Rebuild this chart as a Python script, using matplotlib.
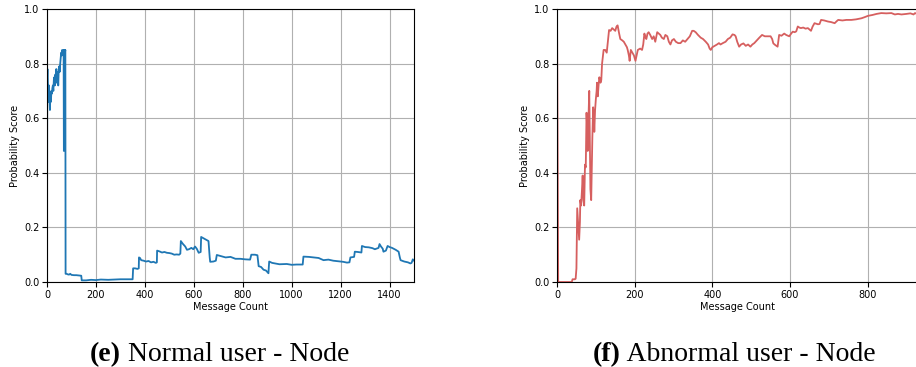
import matplotlib
matplotlib.use('agg')
import matplotlib.pyplot as plt

# normal user - node (blue)
normal_x = [0, 1, 2, 4, 6, 8, 10, 12, 14, 16, 18, 20, 22, 24, 26, 28, 30, 32, 34, 36, 38, 40,
            42, 44, 46, 48, 50, 52, 54, 56, 58, 60, 62, 64, 66, 68, 69, 70, 71, 72, 73, 75,
            76, 80, 85, 90, 95, 100, 110, 120, 130, 140, 142, 160, 180, 200, 220, 250, 280,
            300, 340, 350, 352, 360, 370, 375, 376, 380, 385, 395, 405, 415, 425, 435, 445,
            449, 450, 460, 470, 480, 490, 500, 510, 520, 530, 540, 545, 547, 555, 565, 572,
            580, 590, 598, 605, 612, 620, 628, 630, 640, 650, 660, 665, 667, 680, 690, 694,
            710, 730, 750, 770, 790, 810, 830, 835, 850, 860, 865, 875, 885, 895, 905, 908,
            920, 950, 980, 1000, 1020, 1045, 1048, 1070, 1090, 1110, 1130, 1150, 1170, 1190,
            1210, 1226, 1236, 1240, 1255, 1258, 1270, 1285, 1287, 1300, 1315, 1330, 1340,
            1355, 1359, 1365, 1372, 1375, 1385, 1392, 1400, 1410, 1425, 1437, 1442, 1445,
            1460, 1475, 1485, 1490, 1495, 1500]
normal_y = [0.03, 0.75, 0.78, 0.70, 0.66, 0.72, 0.68, 0.63, 0.69, 0.66, 0.70, 0.69, 0.71, 0.72,
            0.70, 0.74, 0.75, 0.72, 0.76, 0.75, 0.78, 0.73, 0.77, 0.76, 0.72, 0.78, 0.79, 0.77,
            0.80, 0.82, 0.84, 0.83, 0.85, 0.84, 0.83, 0.85, 0.48, 0.50, 0.84, 0.85, 0.84, 0.85,
            0.03, 0.03, 0.028, 0.027, 0.03, 0.026, 0.025, 0.025, 0.024, 0.023, 0.006, 0.006,
            0.008, 0.007, 0.009, 0.008, 0.009, 0.01, 0.01, 0.01, 0.05, 0.05, 0.048, 0.05,
            0.09, 0.088, 0.08, 0.078, 0.075, 0.077, 0.072, 0.074, 0.07, 0.072, 0.115, 0.112,
            0.108, 0.11, 0.107, 0.106, 0.104, 0.10, 0.101, 0.10, 0.104, 0.15, 0.14, 0.13,
            0.118, 0.12, 0.125, 0.12, 0.13, 0.122, 0.107, 0.11, 0.165, 0.16, 0.155, 0.15,
            0.09, 0.074, 0.075, 0.078, 0.099, 0.095, 0.09, 0.092, 0.085, 0.085, 0.083, 0.082,
            0.10, 0.10, 0.098, 0.058, 0.055, 0.045, 0.042, 0.032, 0.075, 0.07, 0.065, 0.066,
            0.063, 0.064, 0.064, 0.093, 0.092, 0.09, 0.088, 0.08, 0.082, 0.078, 0.076, 0.074,
            0.071, 0.072, 0.09, 0.092, 0.111, 0.11, 0.108, 0.132, 0.128, 0.127, 0.124, 0.12,
            0.125, 0.139, 0.13, 0.122, 0.111, 0.115, 0.132, 0.128, 0.125, 0.118, 0.111, 0.09,
            0.08, 0.075, 0.072, 0.068, 0.07, 0.083, 0.078]

# abnormal user - node (red)
abnormal_x = [0, 3, 10, 20, 30, 38, 40, 46, 48, 50, 52, 55, 57, 59, 60, 62, 64, 66, 68, 70, 72,
              74, 76, 78, 79, 81, 83, 85, 86, 88, 90, 91, 93, 95, 96, 98, 100, 102, 103, 105,
              107, 109, 112, 114, 116, 120, 124, 128, 131, 134, 138, 142, 146, 150, 153, 156,
              160, 163, 168, 172, 176, 180, 182, 185, 187, 190, 194, 198, 202, 205, 208, 214,
              219, 222, 225, 228, 230, 233, 236, 240, 245, 249, 253, 256, 258, 262, 266, 270,
              275, 279, 284, 288, 292, 296, 301, 306, 312, 318, 324, 330, 336, 342, 348, 352,
              357, 363, 370, 376, 383, 389, 393, 396, 400, 406, 412, 417, 421, 427, 434, 440,
              446, 452, 457, 460, 464, 469, 474, 480, 486, 492, 498, 503, 508, 515, 521, 528,
              535, 542, 550, 554, 557, 562, 568, 572, 578, 585, 590, 598, 603, 607, 612, 616,
              620, 624, 628, 634, 640, 646, 650, 654, 658, 663, 668, 672, 676, 680, 688, 698,
              706, 715, 720, 724, 735, 745, 758, 770, 784, 792, 801, 812, 823, 835, 848, 861,
              870, 878, 887, 900, 910, 918, 922, 925]
abnormal_y = [1.0, 0.0, 0.0, 0.0, 0.0, 0.0, 0.01, 0.01, 0.012, 0.05, 0.27, 0.20, 0.155, 0.22,
              0.30, 0.28, 0.33, 0.39, 0.30, 0.28, 0.43, 0.42, 0.62, 0.55, 0.48, 0.60, 0.70,
              0.45, 0.34, 0.30, 0.45, 0.53, 0.64, 0.60, 0.55, 0.63, 0.67, 0.70, 0.73, 0.68,
              0.72, 0.75, 0.73, 0.74, 0.80, 0.85, 0.85, 0.84, 0.88, 0.923, 0.92, 0.93, 0.925,
              0.92, 0.935, 0.94, 0.91, 0.89, 0.885, 0.88, 0.87, 0.86, 0.85, 0.83, 0.81, 0.85,
              0.84, 0.83, 0.81, 0.83, 0.85, 0.855, 0.85, 0.87, 0.91, 0.895, 0.89, 0.91, 0.915,
              0.905, 0.89, 0.90, 0.88, 0.90, 0.915, 0.91, 0.905, 0.895, 0.89, 0.905, 0.90,
              0.88, 0.87, 0.885, 0.89, 0.88, 0.875, 0.875, 0.885, 0.88, 0.89, 0.90, 0.92, 0.92,
              0.915, 0.905, 0.895, 0.89, 0.88, 0.87, 0.855, 0.85, 0.86, 0.865, 0.87, 0.875,
              0.87, 0.875, 0.88, 0.89, 0.895, 0.907, 0.905, 0.90, 0.88, 0.862, 0.87, 0.874,
              0.865, 0.87, 0.862, 0.87, 0.875, 0.886, 0.895, 0.905, 0.90, 0.90, 0.90, 0.89,
              0.874, 0.868, 0.862, 0.905, 0.902, 0.91, 0.905, 0.90, 0.91, 0.917, 0.915, 0.918,
              0.936, 0.932, 0.93, 0.932, 0.928, 0.93, 0.925, 0.92, 0.935, 0.948, 0.946, 0.944,
              0.945, 0.96, 0.958, 0.954, 0.952, 0.948, 0.955, 0.96, 0.958, 0.96, 0.96, 0.962,
              0.966, 0.97, 0.975, 0.978, 0.982, 0.985, 0.984, 0.985, 0.98, 0.982, 0.98, 0.982,
              0.984, 0.98, 0.985, 0.983]

captions = [("(e)", " Normal user - Node"), ("(f)", " Abnormal user - Node")]

fig = plt.figure(figsize=(9.16, 3.67), dpi=100)
ax1 = fig.add_axes([0.0513, 0.2316, 0.4007, 0.7439])
ax2 = fig.add_axes([0.6081, 0.2316, 0.3930, 0.7439])

fs = 7
ax1.plot(normal_x, normal_y, color='#1f77b4', lw=1.3)
ax1.set_xlim(0, 1500)
ax2.plot(abnormal_x, abnormal_y, color='#d65f5f', lw=1.3)
ax2.set_xlim(0, 927)

for ax in (ax1, ax2):
    ax.set_ylim(0, 1.0)
    ax.grid(True, color='#b0b0b0', lw=0.8)
    ax.set_axisbelow(True)
    ax.set_xlabel("Message Count", fontsize=fs, labelpad=2)
    ax.set_ylabel("Probability Score", fontsize=fs, labelpad=3)
    ax.tick_params(labelsize=fs, length=3.5, pad=2)

# captions under each panel
for (tag, rest), xc in zip(captions, [0.132, 0.678]):
    fig.text(xc, 0.016, tag, fontsize=20, family='Liberation Serif', weight='bold',
             ha='right', va='baseline')
    fig.text(xc, 0.016, rest, fontsize=20, family='Liberation Serif',
             ha='left', va='baseline')

fig.savefig("out.png", dpi=100)
